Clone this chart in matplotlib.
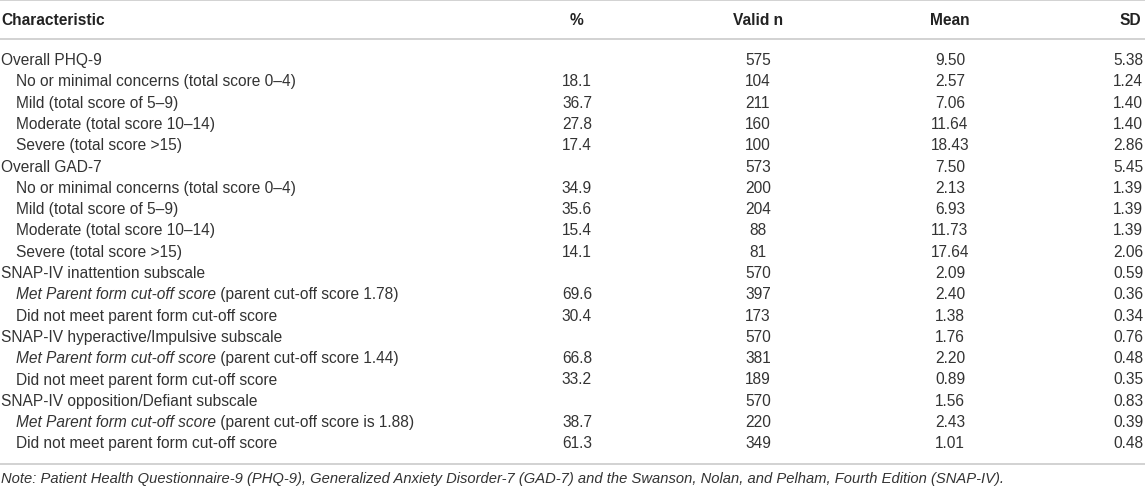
import matplotlib.pyplot as plt

plt.rcParams['font.family'] = ['Liberation Sans', 'DejaVu Sans']

headers = ["Characteristic", "%", "Valid n", "Mean", "SD"]

labels = [
    "Overall PHQ-9",
    "No or minimal concerns (total score 0–4)",
    "Mild (total score of 5–9)",
    "Moderate (total score 10–14)",
    "Severe (total score >15)",
    "Overall GAD-7",
    "No or minimal concerns (total score 0–4)",
    "Mild (total score of 5–9)",
    "Moderate (total score 10–14)",
    "Severe (total score >15)",
    "SNAP-IV inattention subscale",
    "Met Parent form cut-off score| (parent cut-off score 1.78)",
    "Did not meet parent form cut-off score",
    "SNAP-IV hyperactive/Impulsive subscale",
    "Met Parent form cut-off score| (parent cut-off score 1.44)",
    "Did not meet parent form cut-off score",
    "SNAP-IV opposition/Defiant subscale",
    "Met Parent form cut-off score| (parent cut-off score is 1.88)",
    "Did not meet parent form cut-off score",
]
indent = [0, 1, 1, 1, 1, 0, 1, 1, 1, 1, 0, 1, 1, 0, 1, 1, 0, 1, 1]
pct = [None, 18.1, 36.7, 27.8, 17.4, None, 34.9, 35.6, 15.4, 14.1,
       None, 69.6, 30.4, None, 66.8, 33.2, None, 38.7, 61.3]
valid_n = [575, 104, 211, 160, 100, 573, 200, 204, 88, 81,
           570, 397, 173, 570, 381, 189, 570, 220, 349]
mean = [9.50, 2.57, 7.06, 11.64, 18.43, 7.50, 2.13, 6.93, 11.73, 17.64,
        2.09, 2.40, 1.38, 1.76, 2.20, 0.89, 1.56, 2.43, 1.01]
sd = [5.38, 1.24, 1.40, 1.40, 2.86, 5.45, 1.39, 1.39, 1.39, 2.06,
      0.59, 0.36, 0.34, 0.76, 0.48, 0.35, 0.83, 0.39, 0.48]

note = ("Note: Patient Health Questionnaire-9 (PHQ-9), Generalized Anxiety Disorder-7 (GAD-7) "
        "and the Swanson, Nolan, and Pelham, Fourth Edition (SNAP-IV).")

W, H = 1145, 489
fig = plt.figure(figsize=(W / 100, H / 100), dpi=100)
ax = fig.add_axes([0, 0, 1, 1])
ax.set_xlim(0, W)
ax.set_ylim(H, 0)
ax.axis('off')

txt = '#333333'
line_c = '#cfcfcf'
fs = 11.2

# column positions (pixels)
x_label = 1
x_ind = 16
x_pct = 577
x_n = 758
x_mean = 950
x_sd = 1143

for y in (1, 39.5, 465):
    ax.plot([0, W], [y, y], color=line_c, lw=1.3, solid_capstyle='butt')

hy = 20.5
ax.text(x_label, hy, headers[0], fontsize=fs, fontweight='bold', color='#222222', va='center', ha='left')
ax.text(x_pct, hy, headers[1], fontsize=fs, fontweight='bold', color='#222222', va='center', ha='center')
ax.text(x_n, hy, headers[2], fontsize=fs, fontweight='bold', color='#222222', va='center', ha='center')
ax.text(x_mean, hy, headers[3], fontsize=fs, fontweight='bold', color='#222222', va='center', ha='center')
ax.text(x_sd - 2, hy, headers[4], fontsize=fs, fontweight='bold', color='#222222', va='center', ha='right')

y0 = 60.5
dy = 21.3
for i, lab in enumerate(labels):
    y = y0 + i * dy
    x = x_ind if indent[i] else x_label
    if '|' in lab:
        ital, rest = lab.split('|')
        t = ax.text(x, y, ital, fontsize=fs, style='italic', color=txt, va='center', ha='left')
        ax.annotate(rest, xy=(1, 0), xycoords=t, fontsize=fs, color=txt, va='bottom', ha='left')
    else:
        ax.text(x, y, lab, fontsize=fs, color=txt, va='center', ha='left')
    if pct[i] is not None:
        ax.text(x_pct, y, f"{pct[i]:.1f}", fontsize=fs, color=txt, va='center', ha='center')
    ax.text(x_n, y, f"{valid_n[i]}", fontsize=fs, color=txt, va='center', ha='center')
    ax.text(x_mean, y, f"{mean[i]:.2f}", fontsize=fs, color=txt, va='center', ha='center')
    ax.text(x_sd, y, f"{sd[i]:.2f}", fontsize=fs, color=txt, va='center', ha='right')

ax.text(x_label, 479, note, fontsize=10.6, style='italic', color=txt, va='center', ha='left')

fig.savefig('out.png', dpi=100)
